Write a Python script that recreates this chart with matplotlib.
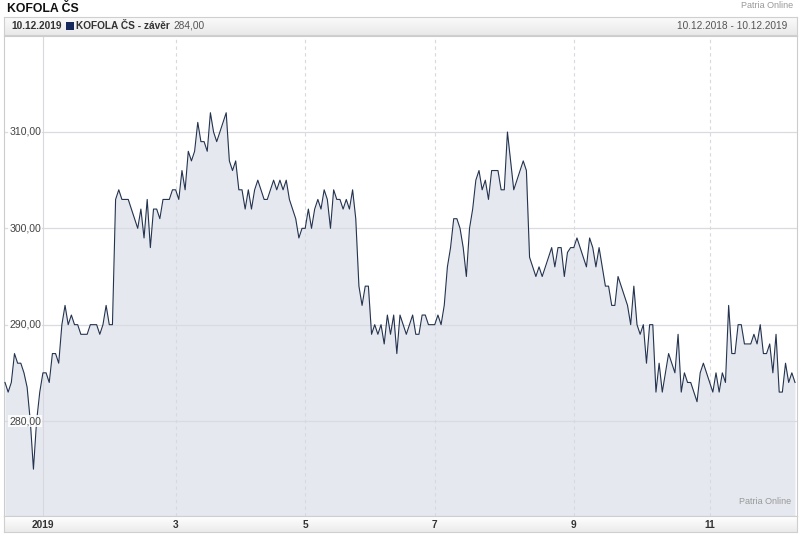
import numpy as np
import pandas as pd
import matplotlib
matplotlib.use("Agg")
import matplotlib.pyplot as plt
from matplotlib.patches import Rectangle

# ---------------- data ----------------
holidays = ['2018-12-24', '2018-12-25', '2018-12-26', '2018-12-31', '2019-01-01',
            '2019-04-19', '2019-04-22', '2019-05-01', '2019-05-08', '2019-07-05',
            '2019-10-28']
dates = pd.bdate_range('2018-12-10', '2019-12-10', freq='C', holidays=holidays)

close_czk = [
    284, 283, 284, 287, 286, 286, 285, 283.5, 280, 275,
    280, 283, 285, 285, 284, 287, 287, 286, 290, 292,
    290, 291, 290, 290, 289, 289, 289, 290, 290, 290,
    289, 290, 292, 290, 290,
    303, 304, 303, 303, 303, 302, 301, 300, 302, 299,
    303, 298, 302, 302, 301, 303, 303, 303, 304, 304,
    303, 306, 304, 308, 307, 308, 311, 309, 309, 308,
    312, 310, 309, 310, 311, 312, 307, 306, 307, 304,
    304, 302, 304, 302, 304, 305, 304, 303, 303, 304,
    305, 304, 305, 304, 305, 303, 302, 301, 299, 300,
    300, 302, 300, 302, 303, 302, 304, 303, 300, 304,
    303, 303, 302, 303, 302, 304, 301,
    294, 292, 294, 294, 289, 290, 289, 290, 288, 291,
    289, 291, 287, 291, 290, 289, 290, 291, 289, 289,
    291, 291, 290, 290, 290, 291, 290, 292, 296, 298,
    301, 301, 300, 298, 295, 300,
    302, 305, 306, 304, 305, 303, 306, 306, 306, 304,
    304, 310, 307, 304, 305, 306, 307, 306, 297, 296,
    295, 296, 295, 296, 297, 298, 296, 298, 298, 295,
    297.5,
    298, 298, 299, 298, 297, 296, 299, 298, 296, 298,
    296, 294, 294, 292, 292, 295, 294, 293, 292, 290,
    294, 290, 289, 290, 286, 290, 290, 283, 286, 283,
    285, 287, 286, 285, 289, 283, 285, 284,
    284, 283, 282, 285, 286, 285, 284, 283, 285, 283,
    285, 284, 292, 287, 287, 290, 290, 288, 288, 288,
    289, 288, 290, 287, 287, 288, 285, 289, 283, 283,
    286, 284, 285, 284,
]
y_ticks = [280, 290, 300, 310]
month_starts = ['2019-01', '2019-03', '2019-05', '2019-07', '2019-09', '2019-11']
month_labels = ['2019', '3', '5', '7', '9', '11']

n = min(len(dates), len(close_czk))
dates = dates[:n]
values = np.array(close_czk[:n], dtype=float)
idx = np.arange(n)

# ---------------- figure ----------------
W, H = 800, 537
fig = plt.figure(figsize=(W / 100, H / 100), dpi=100)
FONT = ['Liberation Sans', 'DejaVu Sans']
plt.rcParams['font.family'] = FONT


def fx(px):
    return px / W


def fy(py):
    return 1 - py / H


# plot area
px_left, px_right, px_top, px_bot = 4, 797, 36, 516
ax = fig.add_axes([fx(px_left), fy(px_bot), fx(px_right - px_left), (px_bot - px_top) / H])
ax.set_facecolor('white')

# mapping: y 310 -> 132 px, 280 -> 421 px
ppu = (421 - 132) / 30.0
ymin = 280 - (px_bot - 421) / ppu
ymax = 310 + (132 - px_top) / ppu
ax.set_ylim(ymin, ymax)
step = (795 - 5) / (n - 1)
ax.set_xlim(-(5 - px_left) / step, (n - 1) + (px_right - 795) / step)

ax.fill_between(idx, values, ymin, color='#e5e8ee', zorder=1, linewidth=0)
for v in y_ticks:
    ax.axhline(v, color='#d9dbe0', linewidth=0.9, zorder=1.5)

tick_pos = []
for m in month_starts:
    first = np.where(dates >= pd.Timestamp(m + '-01'))[0][0]
    tick_pos.append(first)
for i, p in enumerate(tick_pos):
    if i == 0:
        ax.axvline(p, color='#d7d9de', linewidth=0.8, zorder=1.5)
    else:
        ax.axvline(p, color='#d7d9de', linewidth=0.8, linestyle=(0, (3, 3)), zorder=1.5)

ax.plot(idx, values, color='#24334f', linewidth=0.8, zorder=3)

for v in y_ticks:
    ax.text(0.0065, v, f'{v},00', transform=ax.get_yaxis_transform(),
            ha='left', va='center', fontsize=7.6, color='#444444', zorder=4,
            bbox=dict(boxstyle='square,pad=0.1', facecolor='white', edgecolor='none', alpha=0.85))

ax.set_xticks([])
ax.set_yticks([])
for s in ax.spines.values():
    s.set_color('#cccccc')
    s.set_linewidth(0.8)

ax.text(0.992, 0.02, 'Patria Online', transform=ax.transAxes, ha='right', va='bottom',
        fontsize=6.5, color='#999999', zorder=4)

# ---------------- header ----------------
fig.text(fx(7), fy(9.5), 'KOFOLA ČS', ha='left', va='center', fontsize=8.8,
         fontweight='bold', color='#111111')
fig.text(fx(793), fy(6), 'Patria Online', ha='right', va='center', fontsize=6.5,
         color='#999999')

hb = fig.add_axes([fx(4), fy(35), fx(793), 18 / H])
grad = np.linspace(0, 1, 50).reshape(-1, 1)
hb.imshow(grad, aspect='auto', cmap=matplotlib.colors.LinearSegmentedColormap.from_list(
    'g', ['#fbfbfb', '#e9e9e9']), extent=[0, 1, 0, 1], origin='upper')
hb.set_xticks([]); hb.set_yticks([])
for s in hb.spines.values():
    s.set_color('#cfcfcf'); s.set_linewidth(0.8)

fig.canvas.draw()
renderer = fig.canvas.get_renderer()
hy = fy(26)
t1 = fig.text(fx(11), hy, '10.12.2019', ha='left', va='center', fontsize=7.3,
              fontweight='bold', color='#333333')
x_next = t1.get_window_extent(renderer).x1 + 4
fig.patches.append(Rectangle((x_next / W, fy(30)), 8 / W, 8 / H, transform=fig.transFigure,
                             facecolor='#16295a', edgecolor='none'))
x_next += 11
t2 = fig.text(x_next / W, hy, 'KOFOLA ČS - závěr', ha='left', va='center', fontsize=7.3,
              fontweight='bold', color='#333333')
x_next = t2.get_window_extent(renderer).x1 + 3
fig.text(x_next / W, hy, f'{values[-1]:.2f}'.replace('.', ','), ha='left', va='center',
         fontsize=7.3, color='#555555')
fig.text(fx(787), hy, f"{dates[0].strftime('%d.%m.%Y')} - {dates[-1].strftime('%d.%m.%Y')}",
         ha='right', va='center', fontsize=7.3, color='#555555')

# ---------------- bottom axis bar ----------------
bb = fig.add_axes([fx(4), fy(532), fx(793), 16 / H])
bb.imshow(grad, aspect='auto', cmap=matplotlib.colors.LinearSegmentedColormap.from_list(
    'g2', ['#ffffff', '#ebebeb']), extent=[0, 1, 0, 1], origin='upper')
bb.set_xlim(0, 1); bb.set_ylim(0, 1)
bb.set_xticks([]); bb.set_yticks([])
for s in bb.spines.values():
    s.set_color('#cfcfcf'); s.set_linewidth(0.8)
x0, x1 = ax.get_xlim()
for p, lab in zip(tick_pos, month_labels):
    xf = (p - x0) / (x1 - x0)
    bb.text(xf, 0.45, lab, ha='center', va='center', fontsize=7.3, fontweight='bold',
            color='#333333')

fig.savefig('out.png', dpi=100)
